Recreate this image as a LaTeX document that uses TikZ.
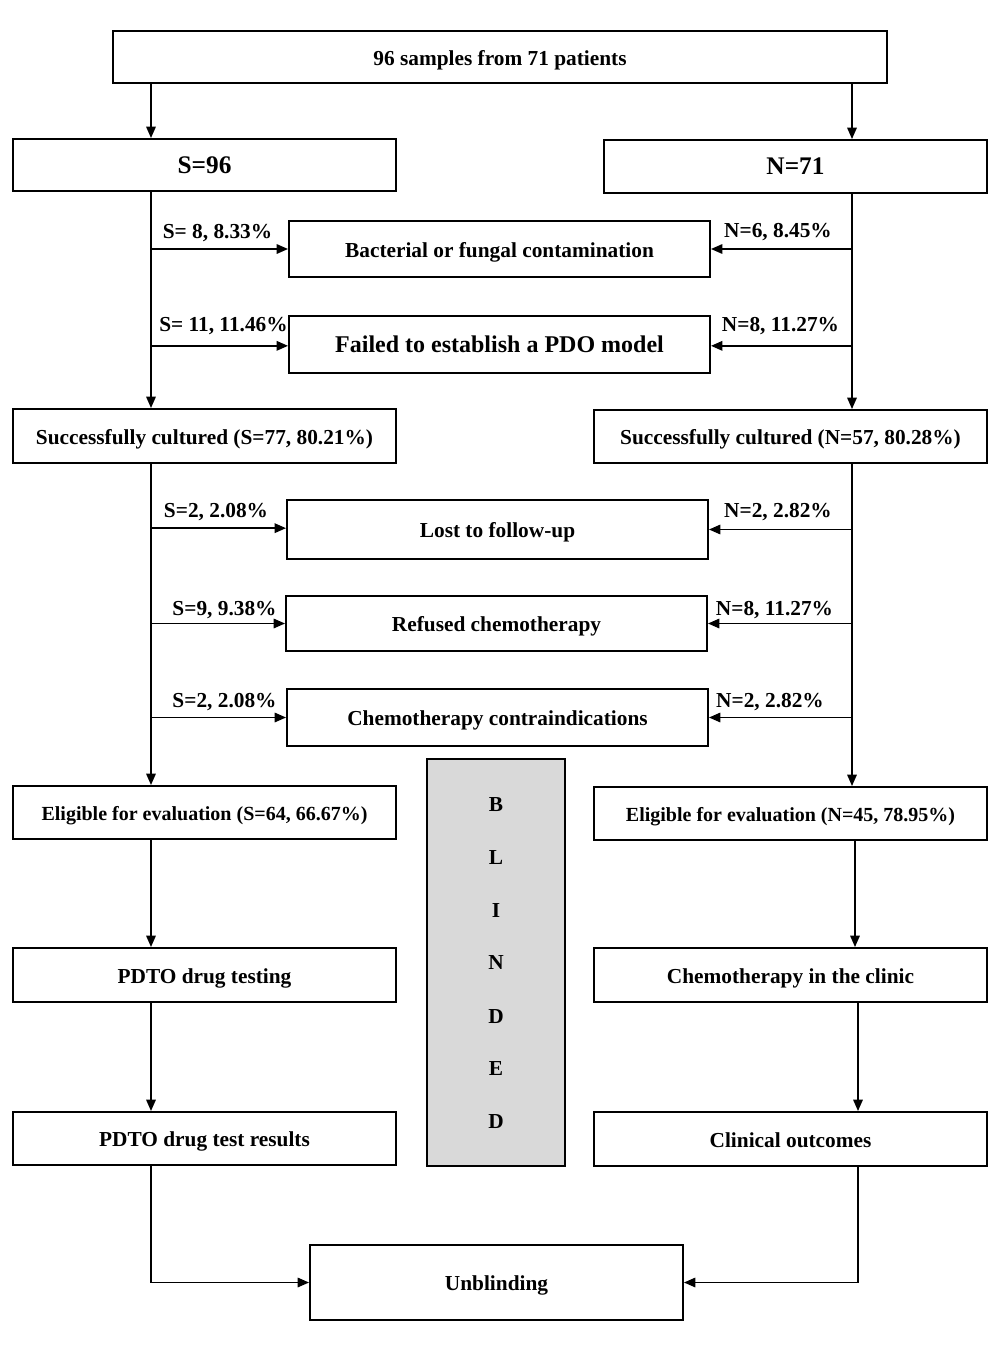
\documentclass[tikz,border=0pt]{standalone}
\usepackage{fontspec}
\setmainfont{Liberation Serif}
\usetikzlibrary{arrows.meta}
\definecolor{blindgray}{RGB}{217,217,217}
\tikzset{
  boxst/.style={draw, line width=1.4pt, inner sep=0pt, text height=16pt, text depth=4pt, font=\fontsize{16}{19}\selectfont\bfseries},
  lab/.style={inner sep=0pt, font=\fontsize{16}{19}\selectfont\bfseries},
  arr/.style={line width=1.4pt, -{Triangle[length=8.5pt,width=7pt]}},
  ln/.style={line width=1.4pt}
}
\begin{document}
\begin{tikzpicture}[x=0.75pt,y=-0.75pt]
\useasboundingbox (0,0) rectangle (1000,1347);
% boxes
\node[boxst, minimum width=580.5pt, minimum height=39pt] (top) at (500,57) {96 samples from 71 patients};
\node[boxst, minimum width=287.25pt, minimum height=39pt, font=\fontsize{19}{22}\selectfont\bfseries] (S96) at (204.5,165) {S=96};
\node[boxst, minimum width=287.25pt, minimum height=39.75pt, font=\fontsize{19}{22}\selectfont\bfseries] (N71) at (795.5,166.5) {N=71};
\node[boxst, minimum width=315.75pt, minimum height=42pt] (bact) at (499.5,249) {Bacterial or fungal contamination};
\node[boxst, minimum width=315.75pt, minimum height=42.75pt, font=\fontsize{18}{21}\selectfont\bfseries] (fail) at (499.5,344.5) {Failed to establish a PDO model};
\node[boxst, minimum width=287.25pt, minimum height=40.5pt] (sucL) at (204.5,436) {Successfully cultured (S=77, 80.21\%)};
\node[boxst, minimum width=294.75pt, minimum height=39.75pt] (sucR) at (790.5,436.5) {Successfully cultured (N=57, 80.28\%)};
\node[boxst, minimum width=315.75pt, minimum height=44.25pt] (lost) at (497.5,529.5) {Lost to follow-up};
\node[boxst, minimum width=315.75pt, minimum height=41.25pt] (refu) at (496.5,623.5) {Refused chemotherapy};
\node[boxst, minimum width=315.75pt, minimum height=42.75pt] (contra) at (497.5,717.5) {Chemotherapy contraindications};
\node[boxst, fill=blindgray, minimum width=103.5pt, minimum height=305.25pt] (blind) at (496,962.5) {};
\node[boxst, minimum width=287.25pt, minimum height=39.75pt, font=\fontsize{15}{18}\selectfont\bfseries] (eligL) at (204.5,812.5) {Eligible for evaluation (S=64, 66.67\%)};
\node[boxst, minimum width=294.75pt, minimum height=39.75pt, font=\fontsize{15}{18}\selectfont\bfseries] (eligR) at (790.5,813.5) {Eligible for evaluation (N=45, 78.95\%)};
\node[boxst, minimum width=287.25pt, minimum height=40.5pt] (pdto) at (204.5,975) {PDTO drug testing};
\node[boxst, minimum width=294.75pt, minimum height=40.5pt] (chemo) at (790.5,975) {Chemotherapy in the clinic};
\node[boxst, minimum width=287.25pt, minimum height=39.75pt] (res) at (204.5,1138.5) {PDTO drug test results};
\node[boxst, minimum width=294.75pt, minimum height=40.5pt] (clin) at (790.5,1139) {Clinical outcomes};
\node[boxst, minimum width=279.75pt, minimum height=56.25pt] (unbl) at (496.5,1282.5) {Unblinding};
% BLINDED letters
\foreach \ch/\yy [count=\i] in {B/805,L/858,I/911,N/963,D/1017,E/1069,D/1122}
  \node[lab] (bl\i) at (496,\yy) {\ch};
% trunk coordinates
\coordinate (xL) at (151,0);
\coordinate (xR) at (852,0);
\coordinate (xR2) at (855,0);
\coordinate (xR3) at (858,0);
% top arrows
\draw[arr] (xL |- top.south) -- (xL |- S96.north);
\draw[arr] (xR |- top.south) -- (xR |- N71.north);
% first trunks
\draw[arr] (xL |- S96.south) -- (xL |- sucL.north);
\draw[arr] (xR |- N71.south) -- (xR |- sucR.north);
\draw[arr] (xL |- bact.west) -- (bact.west);
\draw[arr] (xR |- bact.east) -- (bact.east);
\draw[arr] ([yshift=-1pt]xL |- fail.west) -- ([yshift=-1pt]fail.west);
\draw[arr] ([yshift=-1pt]xR |- fail.east) -- ([yshift=-1pt]fail.east);
% second trunks
\draw[arr] (xL |- sucL.south) -- (xL |- eligL.north);
\draw[arr] (xR |- sucR.south) -- (xR |- eligR.north);
\draw[arr] ([yshift=1pt]xL |- lost.west) -- ([yshift=1pt]lost.west);
\draw[arr] (xR |- lost.east) -- (lost.east);
\draw[arr] (xL |- refu.west) -- (refu.west);
\draw[arr] (xR |- refu.east) -- (refu.east);
\draw[arr] (xL |- contra.west) -- (contra.west);
\draw[arr] (xR |- contra.east) -- (contra.east);
% lower
\draw[arr] (xL |- eligL.south) -- (xL |- pdto.north);
\draw[arr] (xR2 |- eligR.south) -- (xR2 |- chemo.north);
\draw[arr] (xL |- pdto.south) -- (xL |- res.north);
\draw[arr] (xR3 |- chemo.south) -- (xR3 |- clin.north);
\draw[arr] (xL |- res.south) |- (unbl.west);
\draw[arr] (xR3 |- clin.south) |- (unbl.east);
% labels
\node[lab] (l1) at (217.5,233) {S= 8, 8.33\%};
\node[lab] (r1) at (778,232) {N=6, 8.45\%};
\node[lab] (l2) at (223.5,326) {S= 11, 11.46\%};
\node[lab] (r2) at (780.5,326) {N=8, 11.27\%};
\node[lab] (l3) at (216,512) {S=2, 2.08\%};
\node[lab] (r3) at (778,512) {N=2, 2.82\%};
\node[lab] (l4) at (224.5,610) {S=9, 9.38\%};
\node[lab] (r4) at (774.5,610) {N=8, 11.27\%};
\node[lab] (l5) at (224.5,702) {S=2, 2.08\%};
\node[lab] (r5) at (770,702) {N=2, 2.82\%};
\end{tikzpicture}
\end{document}
